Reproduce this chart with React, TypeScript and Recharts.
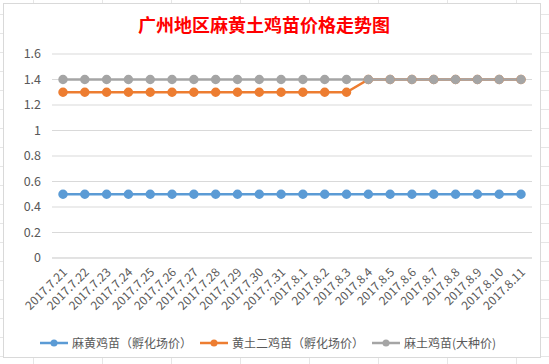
import { LineChart, Line, XAxis, YAxis, CartesianGrid, Legend } from 'recharts';

// category labels (dates)
const dates = [
  '2017.7.21', '2017.7.22', '2017.7.23', '2017.7.24', '2017.7.25', '2017.7.26',
  '2017.7.27', '2017.7.28', '2017.7.29', '2017.7.30', '2017.7.31', '2017.8.1',
  '2017.8.2', '2017.8.3', '2017.8.4', '2017.8.5', '2017.8.6', '2017.8.7',
  '2017.8.8', '2017.8.9', '2017.8.10', '2017.8.11'
];

// series values
const mahuang = [0.5, 0.5, 0.5, 0.5, 0.5, 0.5, 0.5, 0.5, 0.5, 0.5, 0.5, 0.5, 0.5, 0.5, 0.5, 0.5, 0.5, 0.5, 0.5, 0.5, 0.5, 0.5];
const huangtuEr = [1.3, 1.3, 1.3, 1.3, 1.3, 1.3, 1.3, 1.3, 1.3, 1.3, 1.3, 1.3, 1.3, 1.3, 1.4, 1.4, 1.4, 1.4, 1.4, 1.4, 1.4, 1.4];
const matu = [1.4, 1.4, 1.4, 1.4, 1.4, 1.4, 1.4, 1.4, 1.4, 1.4, 1.4, 1.4, 1.4, 1.4, 1.4, 1.4, 1.4, 1.4, 1.4, 1.4, 1.4, 1.4];

const yTicks = [0, 0.2, 0.4, 0.6, 0.8, 1, 1.2, 1.4, 1.6];

const seriesNames = ['麻黄鸡苗（孵化场价）', '黄土二鸡苗（孵化场价）', '麻土鸡苗(大种价)'];
const colors = ['#5B9BD5', '#ED7D31', '#A5A5A5'];

const data = dates.map((d, i) => ({
  date: d,
  a: mahuang[i],
  b: huangtuEr[i],
  c: matu[i]
}));

const FONT = '"Noto Sans CJK SC", "Noto Sans", sans-serif';

function DateTick(props: any) {
  const { x, y, payload } = props;
  const tx = x + 5;
  const ty = y + 7;
  return (
    <text
      x={tx}
      y={ty}
      transform={`rotate(-45, ${tx}, ${ty})`}
      textAnchor="end"
      fill="#595959"
      fontSize={12}
      fontFamily={FONT}
    >
      {payload.value}
    </text>
  );
}

// legend: line with a round marker, like the spreadsheet
function LegendContent() {
  return (
    <div style={{ display: 'flex', justifyContent: 'center', alignItems: 'center', gap: 8 }}>
      {seriesNames.map((name, i) => (
        <div key={name} style={{ display: 'flex', alignItems: 'center' }}>
          <svg width={28} height={10} style={{ marginRight: 4 }}>
            <line x1={0} y1={5} x2={28} y2={5} stroke={colors[i]} strokeWidth={2.5} />
            <circle cx={14} cy={5} r={3.5} fill={colors[i]} />
          </svg>
          <span style={{ color: '#595959', fontSize: 12 }}>{name}</span>
        </div>
      ))}
    </div>
  );
}

export default function App() {
  return (
    <div
      style={{
        position: 'fixed',
        left: 0,
        top: 0,
        width: 549,
        height: 364,
        background: '#fff',
        backgroundImage:
          'linear-gradient(to right, #e6e6e6 1px, transparent 1px), linear-gradient(to bottom, #e6e6e6 1px, transparent 1px)',
        backgroundSize: '69px 19px',
        backgroundPosition: '33px 14px',
        fontFamily: FONT
      }}
    >
      <div
        style={{
          position: 'absolute',
          left: 3,
          top: 3,
          width: 538,
          height: 355,
          background: '#fff',
          border: '1px solid #d9d9d9',
          boxSizing: 'border-box'
        }}
      >
        <div
          style={{
            position: 'absolute',
            top: 7,
            left: 0,
            width: 520,
            textAlign: 'center',
            color: '#ff0000',
            fontSize: 18,
            fontWeight: 'bold',
            fontFamily: FONT
          }}
        >
          广州地区麻黄土鸡苗价格走势图
        </div>
        <LineChart
          width={536}
          height={353}
          data={data}
          margin={{ top: 50, right: 8, left: 0, bottom: 6 }}
        >
          <CartesianGrid vertical={false} stroke="#d9d9d9" />
          <XAxis
            dataKey="date"
            interval={0}
            tick={<DateTick />}
            tickLine={false}
            axisLine={{ stroke: '#d9d9d9' }}
            padding={{ left: 11, right: 11 }}
            height={76}
          />
          <YAxis
            domain={[0, 1.6]}
            ticks={yTicks}
            width={48}
            tickLine={false}
            axisLine={false}
            tickMargin={5}
            tick={{ fill: '#595959', fontSize: 12.5, fontFamily: FONT }}
          />
          <Legend verticalAlign="bottom" content={<LegendContent />} />
          <Line
            name={seriesNames[0]}
            dataKey="a"
            stroke={colors[0]}
            strokeWidth={2.5}
            dot={{ r: 3.5, fill: colors[0], stroke: colors[0] }}
            isAnimationActive={false}
          />
          <Line
            name={seriesNames[1]}
            dataKey="b"
            stroke={colors[1]}
            strokeWidth={2.5}
            dot={{ r: 3.5, fill: colors[1], stroke: colors[1] }}
            isAnimationActive={false}
          />
          <Line
            name={seriesNames[2]}
            dataKey="c"
            stroke={colors[2]}
            strokeWidth={2.5}
            dot={{ r: 3.5, fill: colors[2], stroke: colors[2] }}
            isAnimationActive={false}
          />
        </LineChart>
      </div>
    </div>
  );
}
